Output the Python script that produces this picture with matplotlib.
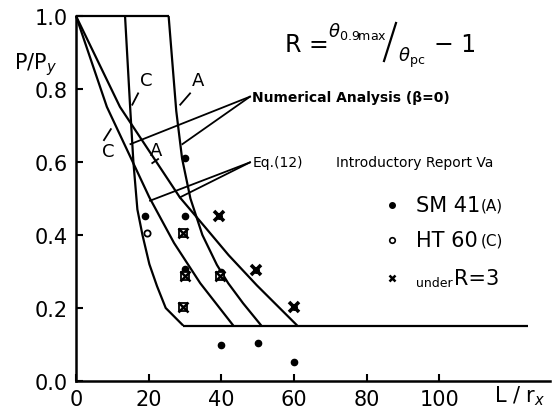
import numpy as np
import matplotlib.pyplot as plt
from matplotlib.lines import Line2D

plt.rcParams['font.family'] = ['DejaVu Sans']
plt.rcParams['mathtext.fontset'] = 'dejavusans'

# curves (L/rx, P/Py)
c_num_x = [13.5, 14.9, 15.8, 16.9, 18.3, 20.2, 22.3, 24.7, 29.5]
c_num_y = [1.0, 0.751, 0.60, 0.47, 0.40, 0.32, 0.26, 0.20, 0.152]
a_num_x = [25.5, 27.6, 29.2, 31.5, 34.8, 38.8, 41.9, 46.0, 51.0]
a_num_y = [1.0, 0.74, 0.61, 0.50, 0.40, 0.318, 0.268, 0.213, 0.152]
c_eq_x = [0.0, 8.5, 20.2, 27.0, 34.2, 43.3]
c_eq_y = [1.0, 0.751, 0.503, 0.378, 0.268, 0.152]
a_eq_x = [0.0, 12.1, 28.6, 35.5, 42.0, 49.8, 60.9]
a_eq_y = [1.0, 0.751, 0.503, 0.422, 0.345, 0.262, 0.152]
floor_x = [29.5, 124.5]
floor_y = [0.152, 0.152]
top_x = [0.0, 25.5]
top_y = [1.0, 1.0]

# test points
sm41_x = [19, 30, 30, 30, 40, 40, 50, 60]
sm41_y = [0.453, 0.453, 0.61, 0.307, 0.30, 0.10, 0.105, 0.052]
ht60_x = [19.5]
ht60_y = [0.406]
r3_sm_x = [39.5, 49.5, 60]
r3_sm_y = [0.453, 0.304, 0.204]
r3_ht_x = [29.5, 30, 29.5, 39.7]
r3_ht_y = [0.406, 0.287, 0.204, 0.287]

fig = plt.figure(figsize=(5.53, 4.10), dpi=100)
ax = fig.add_axes([76/553, 1-382/410, 474/553, 365/410])
ax.set_xlim(0, 130.5)
ax.set_ylim(0, 1.0)

lw = 1.6
for xs, ys in [(c_num_x, c_num_y), (a_num_x, a_num_y), (c_eq_x, c_eq_y),
               (a_eq_x, a_eq_y), (floor_x, floor_y), (top_x, top_y)]:
    ax.plot(xs, ys, color='black', lw=lw, clip_on=False, solid_capstyle='butt')

ax.plot(sm41_x, sm41_y, 'o', color='black', ms=4.5, clip_on=False)
ax.plot(ht60_x, ht60_y, 'o', mfc='white', mec='black', ms=4.5, mew=1.3)
ax.plot(r3_sm_x, r3_sm_y, 'o', color='black', ms=4)
ax.plot(r3_sm_x, r3_sm_y, 'x', color='black', ms=7, mew=2.6)
ax.plot(r3_ht_x, r3_ht_y, 's', mfc='white', mec='black', ms=5.5, mew=1.3)
ax.plot(r3_ht_x, r3_ht_y, 'x', color='black', ms=6.5, mew=1.8)

# leaders
lk = dict(color='black', lw=1.3, clip_on=False)
ax.plot([47.9, 15.0], [0.779, 0.649], **lk)
ax.plot([47.9, 29.3], [0.779, 0.649], **lk)
ax.plot([47.9, 20.4], [0.599, 0.494], **lk)
ax.plot([47.9, 28.6], [0.599, 0.503], **lk)
ax.plot([17.1, 15.5], [0.788, 0.757], **lk)
ax.plot([31.4, 28.7], [0.788, 0.757], **lk)
ax.plot([7.7, 9.6], [0.66, 0.69], **lk)
ax.plot([21.0, 22.6], [0.597, 0.608], **lk)

ax.text(17.5, 0.80, 'C', fontsize=13, ha='left', va='bottom')
ax.text(31.8, 0.80, 'A', fontsize=13, ha='left', va='bottom')
ax.text(9.0, 0.63, 'C', fontsize=13, ha='center', va='center')
ax.text(22.0, 0.633, 'A', fontsize=13, ha='center', va='center')

ax.text(48.5, 0.779, 'Numerical Analysis (β=0)', fontsize=10, fontweight='bold', va='center')
ax.text(48.5, 0.599, 'Eq.(12)', fontsize=10, va='center')
ax.text(71.5, 0.599, 'Introductory Report Va', fontsize=10, va='center')

# legend
ax.plot([87], [0.481], 'o', color='black', ms=4, clip_on=False)
ax.plot([87], [0.387], 'o', mfc='white', mec='black', ms=4, mew=1.2, clip_on=False)
ax.plot([87], [0.282], 'x', color='black', ms=5, mew=1.8, clip_on=False)
ax.text(93.5, 0.481, 'SM 41', fontsize=15, va='center')
ax.text(111.5, 0.481, '(A)', fontsize=11, va='center')
ax.text(93.5, 0.387, 'HT 60', fontsize=15, va='center')
ax.text(111.5, 0.387, '(C)', fontsize=11, va='center')
ax.text(93.5, 0.270, 'under', fontsize=9, va='center')
ax.text(104, 0.282, 'R=3', fontsize=15, va='center')

# formula
fig.text(285/553, 1-45/410, 'R =', fontsize=17, va='center')
fig.text(328/553, 1-31/410, r'$\theta_{\mathrm{0.9max}}$', fontsize=13, va='center')
fig.add_artist(Line2D([384/553, 396/553], [1-62/410, 1-24/410], color='black', lw=1.6))
fig.text(398/553, 1-58/410, r'$\theta_{\mathrm{pc}}$', fontsize=13, va='center')
fig.text(434/553, 1-45/410, '− 1', fontsize=17, va='center')

fig.text(36/553, 1-65/410, r'P/P$_y$', fontsize=15, ha='center', va='center')
fig.text(520/553, 1-396/410, r'L / r$_x$', fontsize=15, ha='center', va='center')

ax.set_xticks([0, 20, 40, 60, 80, 100])
ax.set_yticks([0.0, 0.2, 0.4, 0.6, 0.8, 1.0])
ax.set_yticklabels(['0.0', '0.2', '0.4', '0.6', '0.8', '1.0'])
ax.tick_params(direction='in', length=5, width=1.5, labelsize=15)
ax.tick_params(axis='x', pad=6)
ax.tick_params(axis='y', pad=6)
ax.spines['top'].set_visible(False)
ax.spines['right'].set_visible(False)
for s in ['left', 'bottom']:
    ax.spines[s].set_linewidth(1.8)

plt.savefig('out.png', dpi=100)
